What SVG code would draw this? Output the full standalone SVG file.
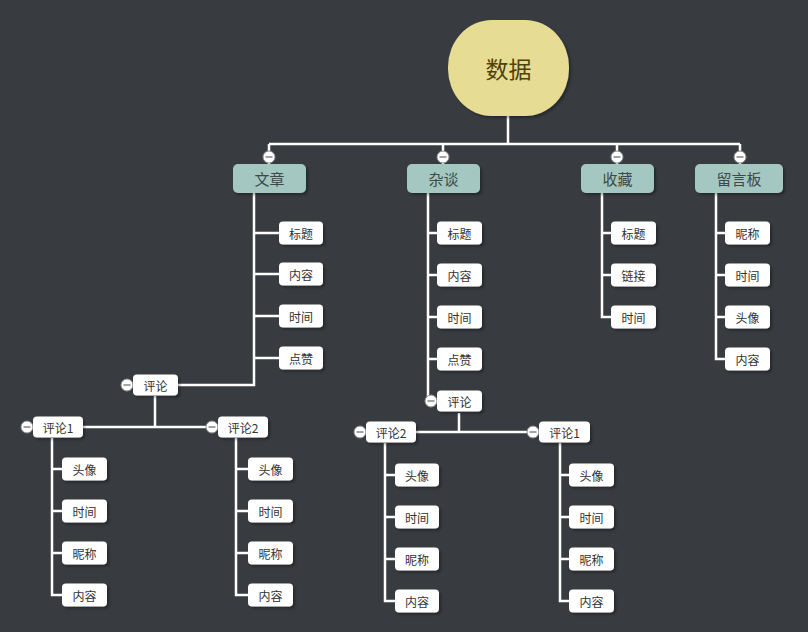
<svg xmlns="http://www.w3.org/2000/svg" width="808" height="632" viewBox="0 0 808 632">
<defs>
<filter id="sh" x="-20%" y="-20%" width="150%" height="160%">
<feDropShadow dx="2" dy="2" stdDeviation="1.5" flood-color="#000" flood-opacity="0.35"/>
</filter>
<g id="tog"><circle r="6" fill="#fff" stroke="#8a8e90" stroke-width="1"/><line x1="-3.5" y1="0" x2="3.5" y2="0" stroke="#666" stroke-width="1.2"/></g>
</defs>
<style>
.ln{fill:none;stroke:#fff;stroke-width:2.5}
.leaf rect{fill:#fff;filter:url(#sh)}
.leaf text{font-family:"Noto Sans CJK SC","Noto Sans",sans-serif;font-size:12px;fill:#333;text-anchor:middle;dominant-baseline:central}
.l1 rect{fill:#a4c7c2;filter:url(#sh)}
.l1 text{font-family:"Noto Sans CJK SC","Noto Sans",sans-serif;font-size:15px;fill:#3c4a48;text-anchor:middle;dominant-baseline:central}
</style>
<rect width="808" height="632" fill="#383c40"/>
<g id="connectors" class="ln">
<path d="M508 116V144M269 144H740M269 144V164M443 144V164M617 144V164M740 144V164"/>
<path d="M254 193V385H178M254 233H279M254 274H279M254 316H279M254 358H279"/>
<path d="M155 396V427M83 427H212"/>
<path d="M52 438V595H62M52 469H62M52 511H62M52 553H62"/>
<path d="M236 438V595H248M236 469H248M236 511H248M236 553H248"/>
<path d="M428 193V401H437M428 233H437M428 275H437M428 317H437M428 359H437"/>
<path d="M459 413V432M416 432H533"/>
<path d="M385 443V601H395M385 475H395M385 517H395M385 559H395"/>
<path d="M560 443V601H569M560 475H569M560 517H569M560 559H569"/>
<path d="M602 193V317H611M602 233H611M602 275H611"/>
<path d="M716 193V359H725M716 233H725M716 275H725M716 317H725"/>
</g>
<g id="root"><rect x="448" y="20" width="121" height="96" rx="44" ry="47" fill="#e6dc94" filter="url(#sh)"/><text x="508.5" y="68" font-family="'Noto Sans CJK SC','Noto Sans',sans-serif" font-size="23" fill="#4f4208" text-anchor="middle" dominant-baseline="central">数据</text></g>
<g id="n-wenzhang" class="l1"><rect x="233" y="164" width="73" height="29" rx="5"/><text x="269.5" y="178.5">文章</text></g>
<g id="n-zatan" class="l1"><rect x="407" y="164" width="73" height="29" rx="5"/><text x="443.5" y="178.5">杂谈</text></g>
<g id="n-shoucang" class="l1"><rect x="581" y="164" width="73" height="29" rx="5"/><text x="617.5" y="178.5">收藏</text></g>
<g id="n-liuyan" class="l1"><rect x="695" y="164" width="88" height="29" rx="5"/><text x="739" y="178.5">留言板</text></g>
<g id="toggles">
<use href="#tog" x="269" y="157"/><use href="#tog" x="443" y="157"/><use href="#tog" x="617" y="157"/><use href="#tog" x="740" y="157"/>
<use href="#tog" x="127" y="385"/><use href="#tog" x="27" y="427"/><use href="#tog" x="212" y="427"/>
<use href="#tog" x="431" y="401"/><use href="#tog" x="360" y="432"/><use href="#tog" x="533" y="432"/>
</g>
<g id="wz-1" class="leaf"><rect x="279" y="221.5" width="44" height="23" rx="4"/><text x="301" y="233">标题</text></g>
<g id="wz-2" class="leaf"><rect x="279" y="262.5" width="44" height="23" rx="4"/><text x="301" y="274">内容</text></g>
<g id="wz-3" class="leaf"><rect x="279" y="304.5" width="44" height="23" rx="4"/><text x="301" y="316">时间</text></g>
<g id="wz-4" class="leaf"><rect x="279" y="346.5" width="44" height="23" rx="4"/><text x="301" y="358">点赞</text></g>
<g id="wz-pl" class="leaf"><rect x="133" y="374.5" width="45" height="21" rx="4"/><text x="155.5" y="385">评论</text></g>
<g id="wz-pl1" class="leaf"><rect x="33" y="416.5" width="50" height="21" rx="4"/><text x="58" y="427">评论1</text></g>
<g id="wz-pl2" class="leaf"><rect x="218" y="416.5" width="50" height="21" rx="4"/><text x="243" y="427">评论2</text></g>
<g id="wz-pl1-1" class="leaf"><rect x="62" y="457.5" width="45" height="23" rx="4"/><text x="84.5" y="469">头像</text></g>
<g id="wz-pl1-2" class="leaf"><rect x="62" y="499.5" width="45" height="23" rx="4"/><text x="84.5" y="511">时间</text></g>
<g id="wz-pl1-3" class="leaf"><rect x="62" y="541.5" width="45" height="23" rx="4"/><text x="84.5" y="553">昵称</text></g>
<g id="wz-pl1-4" class="leaf"><rect x="62" y="583.5" width="45" height="23" rx="4"/><text x="84.5" y="595">内容</text></g>
<g id="wz-pl2-1" class="leaf"><rect x="248" y="457.5" width="45" height="23" rx="4"/><text x="270.5" y="469">头像</text></g>
<g id="wz-pl2-2" class="leaf"><rect x="248" y="499.5" width="45" height="23" rx="4"/><text x="270.5" y="511">时间</text></g>
<g id="wz-pl2-3" class="leaf"><rect x="248" y="541.5" width="45" height="23" rx="4"/><text x="270.5" y="553">昵称</text></g>
<g id="wz-pl2-4" class="leaf"><rect x="248" y="583.5" width="45" height="23" rx="4"/><text x="270.5" y="595">内容</text></g>
<g id="zt-1" class="leaf"><rect x="437" y="221.5" width="45" height="23" rx="4"/><text x="459.5" y="233">标题</text></g>
<g id="zt-2" class="leaf"><rect x="437" y="263.5" width="45" height="23" rx="4"/><text x="459.5" y="275">内容</text></g>
<g id="zt-3" class="leaf"><rect x="437" y="305.5" width="45" height="23" rx="4"/><text x="459.5" y="317">时间</text></g>
<g id="zt-4" class="leaf"><rect x="437" y="347.5" width="45" height="23" rx="4"/><text x="459.5" y="359">点赞</text></g>
<g id="zt-pl" class="leaf"><rect x="437" y="390.5" width="45" height="21" rx="4"/><text x="459.5" y="401">评论</text></g>
<g id="zt-pl2" class="leaf"><rect x="366" y="421.5" width="50" height="21" rx="4"/><text x="391" y="432">评论2</text></g>
<g id="zt-pl1" class="leaf"><rect x="539" y="421.5" width="51" height="21" rx="4"/><text x="564.5" y="432">评论1</text></g>
<g id="zt-pl2-1" class="leaf"><rect x="395" y="463.5" width="44" height="23" rx="4"/><text x="417" y="475">头像</text></g>
<g id="zt-pl2-2" class="leaf"><rect x="395" y="505.5" width="44" height="23" rx="4"/><text x="417" y="517">时间</text></g>
<g id="zt-pl2-3" class="leaf"><rect x="395" y="547.5" width="44" height="23" rx="4"/><text x="417" y="559">昵称</text></g>
<g id="zt-pl2-4" class="leaf"><rect x="395" y="589.5" width="44" height="23" rx="4"/><text x="417" y="601">内容</text></g>
<g id="zt-pl1-1" class="leaf"><rect x="569" y="463.5" width="45" height="23" rx="4"/><text x="591.5" y="475">头像</text></g>
<g id="zt-pl1-2" class="leaf"><rect x="569" y="505.5" width="45" height="23" rx="4"/><text x="591.5" y="517">时间</text></g>
<g id="zt-pl1-3" class="leaf"><rect x="569" y="547.5" width="45" height="23" rx="4"/><text x="591.5" y="559">昵称</text></g>
<g id="zt-pl1-4" class="leaf"><rect x="569" y="589.5" width="45" height="23" rx="4"/><text x="591.5" y="601">内容</text></g>
<g id="sc-1" class="leaf"><rect x="611" y="221.5" width="45" height="23" rx="4"/><text x="633.5" y="233">标题</text></g>
<g id="sc-2" class="leaf"><rect x="611" y="263.5" width="45" height="23" rx="4"/><text x="633.5" y="275">链接</text></g>
<g id="sc-3" class="leaf"><rect x="611" y="305.5" width="45" height="23" rx="4"/><text x="633.5" y="317">时间</text></g>
<g id="ly-1" class="leaf"><rect x="725" y="221.5" width="45" height="23" rx="4"/><text x="747.5" y="233">昵称</text></g>
<g id="ly-2" class="leaf"><rect x="725" y="263.5" width="45" height="23" rx="4"/><text x="747.5" y="275">时间</text></g>
<g id="ly-3" class="leaf"><rect x="725" y="305.5" width="45" height="23" rx="4"/><text x="747.5" y="317">头像</text></g>
<g id="ly-4" class="leaf"><rect x="725" y="347.5" width="45" height="23" rx="4"/><text x="747.5" y="359">内容</text></g>
</svg>
